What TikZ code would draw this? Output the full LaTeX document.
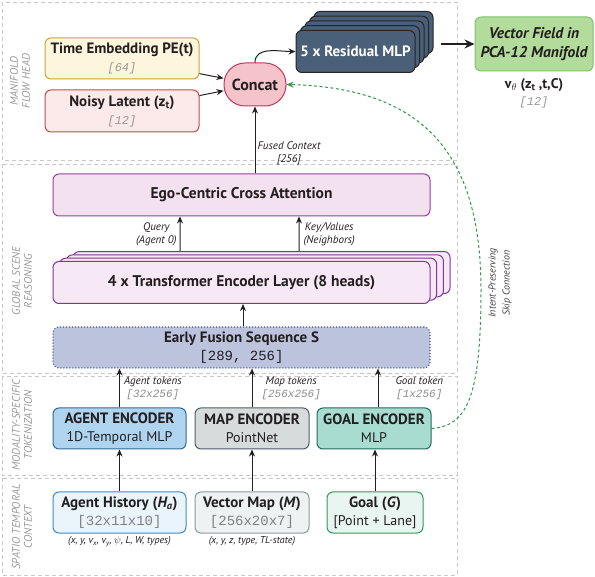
\documentclass[tikz,border=0pt]{standalone}
\usepackage{fontspec}
\setmainfont{PT Sans}
\setmonofont{Liberation Mono}
\usetikzlibrary{arrows.meta,calc,positioning}
\definecolor{ink}{HTML}{231F20}
\definecolor{timefill}{HTML}{FDF6DC}
\definecolor{timedraw}{HTML}{C9A43C}
\definecolor{noisyfill}{HTML}{FCE9E9}
\definecolor{noisydraw}{HTML}{C44A4A}
\definecolor{catfill}{HTML}{F5C3CA}
\definecolor{catdraw}{HTML}{C8355C}
\definecolor{mlpfill}{HTML}{4A5F78}
\definecolor{vffill}{HTML}{B3DB9C}
\definecolor{vfdraw}{HTML}{7CC66A}
\definecolor{egofill}{HTML}{F4E1EF}
\definecolor{egodraw}{HTML}{9A3DA0}
\definecolor{tffill}{HTML}{F6E8F4}
\definecolor{tfdraw}{HTML}{7E3798}
\definecolor{fusfill}{HTML}{BCC3DD}
\definecolor{fusdraw}{HTML}{3D4DAA}
\definecolor{aencfill}{HTML}{AFD4EF}
\definecolor{aencdraw}{HTML}{2F6B9C}
\definecolor{mencfill}{HTML}{D7DBDC}
\definecolor{mencdraw}{HTML}{4D5D6B}
\definecolor{gencfill}{HTML}{A8DCD1}
\definecolor{gencdraw}{HTML}{1E6B5C}
\definecolor{ahistfill}{HTML}{EAF4FB}
\definecolor{ahistdraw}{HTML}{3E8CC8}
\definecolor{vmapfill}{HTML}{EEF2F3}
\definecolor{vmapdraw}{HTML}{8898A2}
\definecolor{goalfill}{HTML}{E9F5F0}
\definecolor{goaldraw}{HTML}{2F9A5C}
\definecolor{skipgreen}{HTML}{2E9A4A}
\newcommand\boxhead[1]{{\fontsize{15}{18}\selectfont\bfseries #1}}

\begin{document}
\begin{tikzpicture}[x=1pt,y=-1pt,>={Stealth[length=7pt,width=6pt]},
  panel/.style={draw=black!22,dash pattern=on 4pt off 3pt,line width=0.8pt},
  side/.style={rotate=90,align=center,text=black!40,font=\fontsize{11}{12}\selectfont\itshape},
  box/.style={draw,rounded corners=6pt,line width=1pt,align=center,inner sep=0pt,text=ink,
    font=\fontsize{14}{18}\selectfont},
  tag/.style={align=center,text=ink,inner sep=1pt,font=\fontsize{11}{13}\selectfont\itshape},
  flow/.style={->,line width=1pt,draw=ink},
  skipline/.style={->,dash pattern=on 3pt off 2.5pt,line width=1pt,draw=skipgreen}]
%
  \useasboundingbox (0,0) rectangle (595,577);
%
  \draw[panel] (2,2) rectangle (457,160);
  \draw[panel] (2,164) rectangle (457,373);
  \draw[panel] (2,376) rectangle (457,475);
  \draw[panel] (2,478) rectangle (457,575);
  \node[side] at (20,81) {MANIFOLD\\FLOW HEAD};
  \node[side] at (22,281) {GLOBAL SCENE\\REASONING};
  \node[side] at (22,425) {MODALITY-SPECIFIC\\TOKENIZATION};
  \node[side] at (22,527) {SPATIO TEMPORAL\\CONTEXT};
%
  % flow head
  \node[box,fill=timefill,draw=timedraw,minimum width=154pt,minimum height=41pt] (time) at (122,58.5)
    {\boxhead{Time Embedding PE(t)}\\{\fontsize{12}{18}\selectfont\ttfamily\itshape\color{black!40}[64]}};
  \node[box,fill=noisyfill,draw=noisydraw,minimum width=154pt,minimum height=42pt] (noisy) at (122,111)
    {\boxhead{Noisy Latent (z\textsubscript{t})}\\{\fontsize{12}{18}\selectfont\ttfamily\itshape\color{black!40}[12]}};
  \node[box,fill=catfill,draw=catdraw,rounded corners=21pt,minimum width=62pt,minimum height=43pt,
    font=\fontsize{16}{18}\selectfont\bfseries] (concat) at (255,84.5) {Concat};
  \foreach \i in {4,3,2,1}
    \node[box,fill=mlpfill,draw=black!85,minimum width=119pt,minimum height=42pt] (mlp\i)
      at (355.5+4.5*\i,51.5-4.75*\i) {};
  \node[box,fill=mlpfill,draw=black!85,minimum width=119pt,minimum height=42pt,text=white,
    font=\fontsize{15}{18}\selectfont\bfseries] (mlp) at (355.5,51.5) {5 x Residual MLP};
  \node[box,fill=vffill,draw=vfdraw,minimum width=118pt,minimum height=54pt,
    font=\fontsize{15.5}{19}\selectfont\bfseries\itshape] (vf) at (534,44) {Vector Field in\\PCA-12 Manifold};
  \node[align=center,inner sep=0pt,text=ink,font=\fontsize{14}{17}\selectfont\bfseries] (vout) at (534,93)
    {v\textsubscript{$\theta$} (z\textsubscript{t} ,t,C)\\{\fontsize{12}{17}\selectfont\mdseries\ttfamily\itshape\color{black!40}[12]}};
%
  % scene reasoning
  \node[box,fill=egofill,draw=egodraw,minimum width=377pt,minimum height=42pt,
    font=\fontsize{15.5}{18}\selectfont\bfseries] (ego) at (241.5,195) {Ego-Centric Cross Attention};
  \foreach \i in {3,2,1}
    \node[box,fill=tffill,draw=tfdraw,minimum width=377pt,minimum height=42pt] (tf\i)
      at (241.5+6.7*\i,282.5-3.3*\i) {};
  \node[box,fill=tffill,draw=tfdraw,minimum width=377pt,minimum height=42pt,
    font=\fontsize{15.5}{18}\selectfont\bfseries] (tf) at (241.5,282.5) {4 x Transformer Encoder Layer (8 heads)};
  \node[box,fill=fusfill,draw=fusdraw,dotted,line width=1.1pt,minimum width=377pt,minimum height=41pt] (fus)
    at (241.5,347.5) {\boxhead{Early Fusion Sequence S}\\{\fontsize{14}{18}\selectfont\ttfamily [289, 256]}};
%
  % tokenization
  \node[box,fill=aencfill,draw=aencdraw,minimum width=133pt,minimum height=41pt] (aenc) at (119.5,428.5)
    {\boxhead{AGENT ENCODER}\\1D-Temporal MLP};
  \node[box,fill=mencfill,draw=mencdraw,minimum width=114pt,minimum height=41pt] (menc) at (252,428.5)
    {\boxhead{MAP ENCODER}\\PointNet};
  \node[box,fill=gencfill,draw=gencdraw,minimum width=114pt,minimum height=41pt] (genc) at (374,428.5)
    {\boxhead{GOAL ENCODER}\\MLP};
%
  % context
  \node[box,fill=ahistfill,draw=ahistdraw,minimum width=133pt,minimum height=41pt] (ahist) at (119.5,512.5)
    {\boxhead{Agent History (\textit{H\textsubscript{a}})}\\{\fontsize{14}{18}\selectfont\ttfamily\color{black!50}[32x11x10]}};
  \node[box,fill=vmapfill,draw=vmapdraw,minimum width=114pt,minimum height=41pt] (vmap) at (252,512.5)
    {\boxhead{Vector Map (\textit{M})}\\{\fontsize{14}{18}\selectfont\ttfamily\color{black!50}[256x20x7]}};
  \node[box,fill=goalfill,draw=goaldraw,minimum width=96pt,minimum height=41pt] (goal) at (375,512.5)
    {\boxhead{Goal (\textit{G})}\\{[Point + Lane]}};
  \node[tag,font=\fontsize{10}{12}\selectfont\itshape,below=2pt of ahist] (adesc)
    {(x, y, v\textsubscript{x}, v\textsubscript{y}, $\psi$, L, W, types)};
  \node[tag,font=\fontsize{10}{12}\selectfont\itshape,below=2pt of vmap] (mdesc) {(x, y, z, type, TL-state)};
%
  \draw[flow] (time) -- (concat);
  \draw[flow] (noisy) -- (concat);
  \draw[flow] (concat.north) to[out=90,in=180] (mlp.west);
  \draw[->,line width=2.2pt,draw=ink,>={Stealth[length=10pt,width=9pt]}] ($(mlp4.east |- vf.west)+(7,0)$) -- (vf.west);
  \draw[flow] (ego.north -| concat.south) -- (concat.south)
    node[tag,pos=0.1,anchor=south west,xshift=1pt] {Fused Context\\{[256]}};
  \draw[flow] ([xshift=-81.6pt]tf3.north) -- ([xshift=-61.5pt]ego.south)
    node[tag,midway,left=2pt] {Query\\(Agent 0)};
  \draw[flow] ([xshift=37.4pt]tf3.north) -- ([xshift=57.5pt]ego.south)
    node[tag,midway,right=3pt] {Key/Values\\(Neighbors)};
  \draw[flow] ([xshift=1.5pt]fus.north) -- ([xshift=1.5pt]tf.south);
  \draw[flow] (aenc.north) -- (aenc.north |- fus.south)
    node[tag,midway,right=3pt] {Agent tokens\\{\fontsize{11}{13}\selectfont\ttfamily\color{black!45}[32x256]}};
  \draw[flow] (menc.north) -- (menc.north |- fus.south)
    node[tag,midway,right=8pt] {Map tokens\\{\fontsize{11}{13}\selectfont\ttfamily\color{black!45}[256x256]}};
  \draw[flow] ([xshift=4pt]genc.north) -- ([xshift=4pt]genc.north |- fus.south)
    node[tag,midway,right=16pt] {Goal token\\{\fontsize{11}{13}\selectfont\ttfamily\color{black!45}[1x256]}};
  \draw[flow] (ahist.north) -- (aenc.south);
  \draw[flow] (vmap.north) -- (menc.south);
  \draw[flow] (goal.north) -- (goal.north |- genc.south);
%
  % skip connection
  \coordinate (skip) at (481,290);
  \draw[skipline] (genc.east) .. controls (466,426) and (481,400) .. (skip)
    .. controls (481,150) and (420,88) .. (concat.east);
  \node[tag,rotate=90,text=black!75,font=\fontsize{10}{14}\selectfont\itshape] (skiplabel) at (500,283)
    {Intent-Preserving\\Skip Connection};
%
\end{tikzpicture}
\end{document}
